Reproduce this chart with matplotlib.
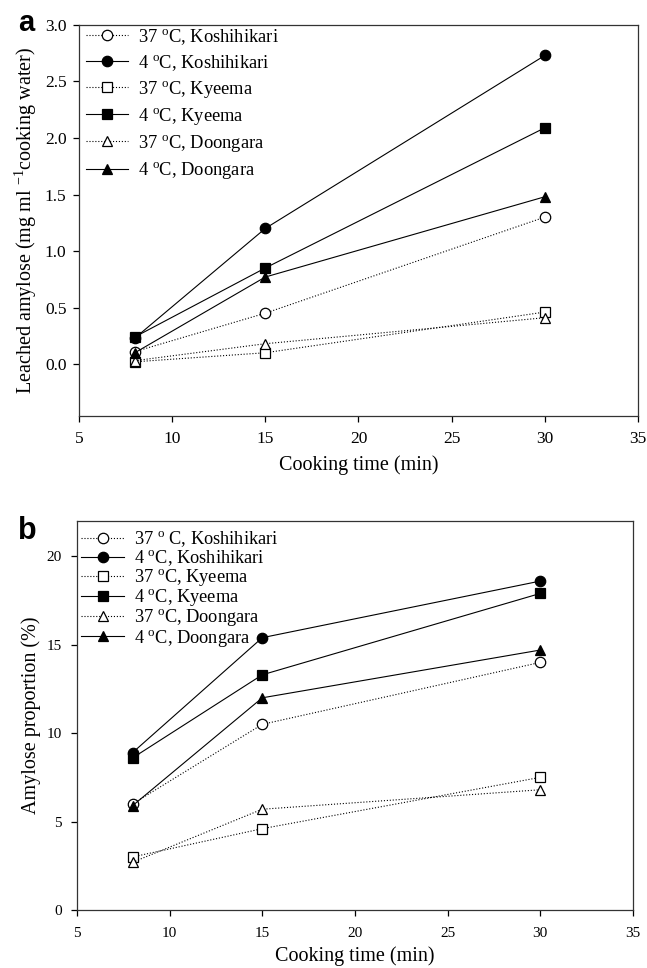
import matplotlib
matplotlib.use("Agg")
import matplotlib.pyplot as plt

plt.rcParams['font.family'] = ['Liberation Serif', 'DejaVu Serif']
plt.rcParams['mathtext.fontset'] = 'custom'
plt.rcParams['mathtext.rm'] = 'Liberation Serif'
plt.rcParams['mathtext.it'] = 'Liberation Serif:italic'

# Data
cook_time = [8, 15, 30]
labels_a = ["37 $^{\\rm o}$C, Koshihikari", "4 $^{\\rm o}$C, Koshihikari",
            "37 $^{\\rm o}$C, Kyeema", "4 $^{\\rm o}$C, Kyeema",
            "37 $^{\\rm o}$C, Doongara", "4 $^{\\rm o}$C, Doongara"]
labels_b = ["37 $^{\\rm o}$ C, Koshihikari", "4 $^{\\rm o}$C, Koshihikari",
            "37 $^{\\rm o}$C, Kyeema", "4 $^{\\rm o}$C, Kyeema",
            "37 $^{\\rm o}$C, Doongara", "4 $^{\\rm o}$C, Doongara"]

leach_koshi_37 = [0.11, 0.45, 1.30]
leach_koshi_4 = [0.23, 1.20, 2.73]
leach_kyeema_37 = [0.02, 0.10, 0.46]
leach_kyeema_4 = [0.24, 0.85, 2.09]
leach_doong_37 = [0.03, 0.18, 0.41]
leach_doong_4 = [0.10, 0.77, 1.48]

prop_koshi_37 = [6.0, 10.5, 14.0]
prop_koshi_4 = [8.9, 15.4, 18.6]
prop_kyeema_37 = [3.0, 4.6, 7.5]
prop_kyeema_4 = [8.6, 13.3, 17.9]
prop_doong_37 = [2.7, 5.7, 6.8]
prop_doong_4 = [5.9, 12.0, 14.7]

a_ticks = [0.0, 0.5, 1.0, 1.5, 2.0, 2.5, 3.0]
b_ticks = [0, 5, 10, 15, 20]
x_ticks = [5, 10, 15, 20, 25, 30, 35]

styles = [
    dict(marker='o', ls=':', mfc='white', ms=7.5),
    dict(marker='o', ls='-', mfc='black', ms=7.5),
    dict(marker='s', ls=':', mfc='white', ms=6.5),
    dict(marker='s', ls='-', mfc='black', ms=6.5),
    dict(marker='^', ls=':', mfc='white', ms=7),
    dict(marker='^', ls='-', mfc='black', ms=7),
]

fig = plt.figure(figsize=(6.47, 9.68), dpi=100)
axA = fig.add_axes([0.1221, 0.5702, 0.986 - 0.1221, 0.9742 - 0.5702])
axB = fig.add_axes([0.119, 0.0599, 0.978 - 0.119, 0.4618 - 0.0599])

def draw(ax, series, labels, ylim, yticks, yfmt, ylabel, ticksize,
         legsize, legspacing, leganchor, xpad, ypad, xlabelpad):
    for vals, lab, st in zip(series, labels, styles):
        ax.plot(cook_time, vals, color='black', lw=0.8, mec='black', mew=0.9,
                label=lab, **st)
    ax.set_xlim(5, 35)
    ax.set_ylim(*ylim)
    ax.set_xticks(x_ticks)
    ax.set_yticks(yticks)
    ax.set_yticklabels([yfmt.format(t) for t in yticks])
    ax.tick_params(direction='out', length=4, width=0.9, labelsize=ticksize)
    ax.tick_params(axis='x', pad=xpad)
    ax.tick_params(axis='y', pad=ypad)
    for s in ax.spines.values():
        s.set_linewidth(0.9)
        s.set_color('#333333')
    ax.set_xlabel("Cooking time (min)", fontsize=14.5, labelpad=xlabelpad)
    ax.set_ylabel(ylabel, fontsize=14.5, labelpad=4)
    ax.legend(loc='upper left', bbox_to_anchor=leganchor, frameon=False,
              fontsize=legsize, handlelength=2.3, handletextpad=0.55,
              labelspacing=legspacing, borderaxespad=0.0, borderpad=0.0)

draw(axA, [leach_koshi_37, leach_koshi_4, leach_kyeema_37, leach_kyeema_4,
           leach_doong_37, leach_doong_4], labels_a,
     (-0.46, 3.0), a_ticks, "{:.1f}",
     "Leached amylose (mg ml $^{-1}$cooking water)", 12.5,
     13.3, 0.33, (0.012, 0.995), 7, 5, 5.5)
draw(axB, [prop_koshi_37, prop_koshi_4, prop_kyeema_37, prop_kyeema_4,
           prop_doong_37, prop_doong_4], labels_b,
     (0, 22), b_ticks, "{:d}",
     "Amylose proportion (%)", 11,
     13.2, -0.05, (0.008, 0.978), 8, 7, 4.5)

fig.text(0.028, 0.968, "a", fontsize=21, fontweight='bold',
         family='Liberation Sans', va='baseline')
fig.text(0.028, 0.443, "b", fontsize=22, fontweight='bold',
         family='Liberation Sans', va='baseline')

fig.savefig("out.png", dpi=100)
